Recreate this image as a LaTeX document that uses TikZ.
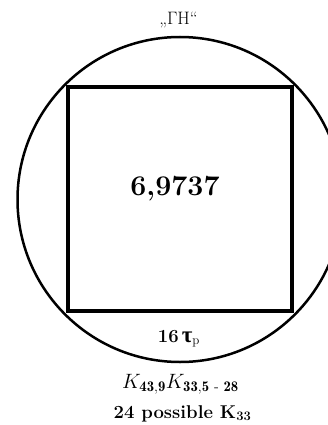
\documentclass[tikz,border=0pt]{standalone}
\usepackage{amsmath}
\usepackage{fontspec}
\newfontfamily\greekfont{Liberation Serif}
\begin{document}
\begin{tikzpicture}[x=1pt,y=-1pt]
        \useasboundingbox (0,0) rectangle (328,425);
        \clip (0,0) rectangle (328,425);
        \node (ring) [draw, circle, line width=2.5pt, minimum size=325pt, inner sep=0pt] at (180,199.5) {};
        \node (box) [draw, line width=4.5pt, minimum size=224pt, inner sep=0pt] at (180,199) {};
        \node (val) [anchor=base] at (175,195) {\fontsize{28.5}{30}\selectfont\bfseries 6,9737};
        \node (name) [anchor=base] at (178.5,25) {\fontsize{18}{18}\selectfont „ΓΗ“};
        \node (tau) [anchor=base] at (179,342) {\fontsize{18.5}{18}\selectfont\bfseries 16\,{\greekfont\fontsize{23}{23}\selectfont τ}\textsubscript{\normalfont p}};
        \node (kk) [anchor=base] at (180.5,388) {\fontsize{21}{21}\selectfont $K_{\mathbf{43,9}}K_{\mathbf{33,5}\text{ - }\mathbf{28}}$};
        \node (poss) [anchor=base] at (182.5,418) {\fontsize{18.5}{18}\selectfont\bfseries 24 possible K\textsubscript{33}};
    \end{tikzpicture}
\end{document}
